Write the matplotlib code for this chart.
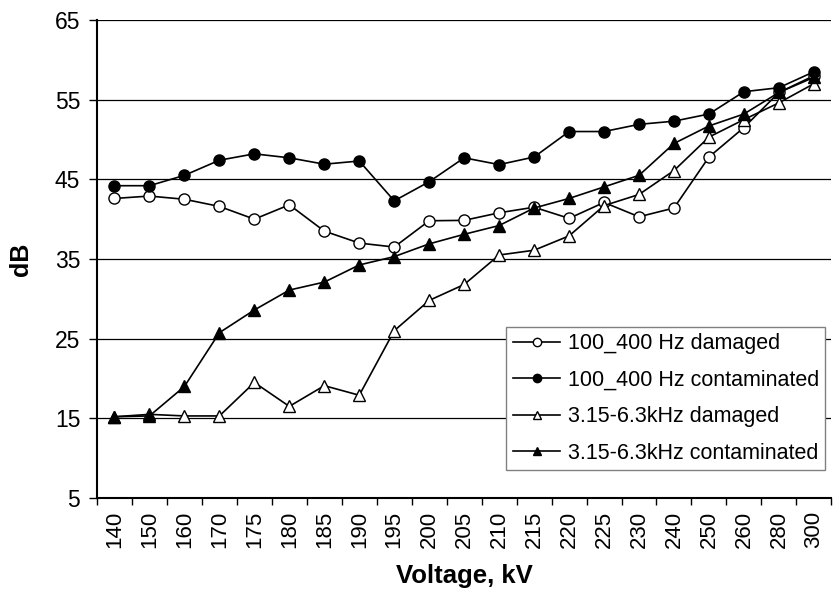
import numpy as np
import matplotlib.pyplot as plt

plt.rcParams['font.family'] = ['Liberation Sans', 'DejaVu Sans']

voltage = ["140", "150", "160", "170", "175", "180", "185", "190", "195", "200", "205",
           "210", "215", "220", "225", "230", "240", "250", "260", "280", "300"]

low_damaged = [42.6, 42.9, 42.5, 41.6, 40.0, 41.8, 38.5, 37.0, 36.5, 39.8, 39.85,
               40.8, 41.5, 40.1, 42.1, 40.3, 41.4, 47.8, 51.5, 55.9, 58.0]
low_contam = [44.2, 44.2, 45.5, 47.4, 48.2, 47.7, 46.9, 47.3, 42.3, 44.7, 47.7,
              46.85, 47.8, 51.0, 51.0, 51.9, 52.3, 53.2, 56.0, 56.5, 58.5]
high_damaged = [15.2, 15.5, 15.3, 15.3, 19.5, 16.5, 19.1, 17.9, 26.0, 29.8, 31.8,
                35.5, 36.1, 37.9, 41.7, 43.1, 46.1, 50.3, 52.5, 54.6, 57.0]
high_contam = [15.2, 15.3, 19.0, 25.75, 28.6, 31.1, 32.1, 34.25, 35.3, 36.9, 38.1,
               39.2, 41.4, 42.6, 44.05, 45.5, 49.5, 51.7, 53.2, 55.9, 57.8]

x = np.arange(len(voltage))

fig = plt.figure(figsize=(8.33, 5.94), dpi=100)
ax = fig.add_axes([97/833, 1-498/594, 1-97/833-0.002, (498-20)/594])

ax.plot(x, low_damaged, '-o', color='black', mfc='white', mec='black', ms=8, lw=1.2,
        label='100_400 Hz damaged')
ax.plot(x, low_contam, '-o', color='black', mfc='black', ms=8, lw=1.2,
        label='100_400 Hz contaminated')
ax.plot(x, high_damaged, '-^', color='black', mfc='white', mec='black', ms=8, lw=1.2,
        label='3.15-6.3kHz damaged')
ax.plot(x, high_contam, '-^', color='black', mfc='black', ms=8, lw=1.2,
        label='3.15-6.3kHz contaminated')

ax.set_xlim(-0.5, len(voltage)-0.5)
ax.set_ylim(5, 65)
ax.set_yticks([5, 15, 25, 35, 45, 55, 65])
ax.yaxis.grid(True, color='black', lw=0.9)
ax.set_axisbelow(True)

ax.set_xticks(x)
ax.set_xticklabels(voltage, rotation=90, fontsize=16)
ax.set_xticks(np.arange(-0.5, len(voltage)), minor=True)
ax.tick_params(axis='x', which='major', length=0, pad=9)
ax.tick_params(axis='x', which='minor', length=5, width=1, direction='out')
ax.tick_params(axis='y', labelsize=16.5, length=6, width=1, direction='out', pad=6)

for s in ['top', 'right']:
    ax.spines[s].set_visible(False)
ax.spines['left'].set_linewidth(1.5)
ax.spines['bottom'].set_linewidth(1.5)

ax.set_xlabel('Voltage, kV', fontsize=18.5, fontweight='bold', labelpad=12)
ax.set_ylabel('dB', fontsize=18, fontweight='bold', labelpad=16)

leg = ax.legend(loc='lower right', bbox_to_anchor=(0.992, 0.058), fontsize=15.5,
                frameon=True, fancybox=False, edgecolor='gray', framealpha=1,
                handlelength=2.2, handletextpad=0.35, borderpad=0.3, labelspacing=0.72,
                markerscale=0.75, borderaxespad=0)
leg.get_frame().set_linewidth(1.0)

fig.savefig('out.png', dpi=100)
